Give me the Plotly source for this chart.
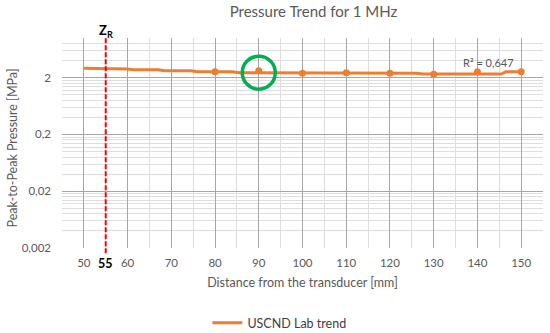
import plotly.graph_objects as go

# ---- data ----
trend_x = [50, 54, 55.5, 60, 61.5, 67, 68.5, 74.5, 76, 84, 85.5, 95, 96.5, 126, 127.5, 145.5, 146.5, 150]
trend_y = [2.93, 2.93, 2.85, 2.85, 2.77, 2.77, 2.66, 2.66, 2.55, 2.55, 2.45, 2.45, 2.39, 2.39, 2.32, 2.32, 2.55, 2.55]
meas_x = [80, 90, 100, 110, 120, 130, 140, 150]
meas_y = [2.55, 2.66, 2.39, 2.45, 2.39, 2.30, 2.55, 2.55]
x_ticks = [50, 60, 70, 80, 90, 100, 110, 120, 130, 140, 150]
x_minor = [45, 55, 65, 75, 85, 95, 105, 115, 125, 135, 145, 155]
y_ticks = [0.002, 0.02, 0.2, 2]
y_ticktext = ["0,002", "0,02", "0,2", "2"]
y_minor = [0.004, 0.006, 0.008, 0.010, 0.012, 0.014, 0.016, 0.018,
           0.04, 0.06, 0.08, 0.10, 0.12, 0.14, 0.16, 0.18,
           0.4, 0.6, 0.8, 1.0, 1.2, 1.4, 1.6, 1.8,
           4, 6, 8, 10]
zr_x = 55
highlight_x = 90
r2_text = "R² = 0,647"

ORANGE = "#ed7d31"
GRAY = "#595959"
FONT = "Lato"

fig = go.Figure()
fig.add_trace(go.Scatter(x=trend_x, y=trend_y, mode="lines", name="USCND Lab trend",
                         line=dict(color=ORANGE, width=3)))
fig.add_trace(go.Scatter(x=meas_x, y=meas_y, mode="markers", showlegend=False,
                         marker=dict(color=ORANGE, size=7)))

fig.update_layout(
    width=550, height=333,
    margin=dict(l=62, r=7, t=38, b=85, autoexpand=False),
    paper_bgcolor="white", plot_bgcolor="white",
    font=dict(family=FONT, color=GRAY, size=12),
    title=dict(text="Pressure Trend for 1 MHz", x=0.57, xanchor="center",
               y=0.965, yanchor="middle", font=dict(size=15, color=GRAY)),
    showlegend=True,
    legend=dict(orientation="h", xref="container", x=0.508, xanchor="center",
                yref="container", y=0.03, yanchor="middle",
                font=dict(size=12.5, color="#404040")),
)

fig.update_xaxes(
    range=[45, 155], tickvals=x_ticks, showgrid=True, gridcolor="#a6a6a6", gridwidth=1,
    zeroline=False, showline=False, ticks="", ticklabelstandoff=6,
    tickfont=dict(size=11.5, color=GRAY),
    minor=dict(tickvals=x_minor, showgrid=True, gridcolor="#dedede", gridwidth=1),
    title=dict(text="Distance from the transducer [mm]", font=dict(size=12.5, color=GRAY), standoff=10),
)
fig.update_yaxes(
    type="log", range=[-2.69897, 1.0], tickvals=y_ticks, ticktext=y_ticktext,
    showgrid=True, gridcolor="#a6a6a6", gridwidth=1, zeroline=False, showline=False,
    ticks="", ticklabelstandoff=10, tickfont=dict(size=11.5, color=GRAY),
    minor=dict(tickvals=y_minor, showgrid=True, gridcolor="#dedede", gridwidth=1),
)

fig.add_annotation(text="Peak-to-Peak Pressure [MPa]", textangle=-90, xref="paper", x=0, xshift=-50,
                   xanchor="center", yanchor="middle",
                   yref="paper", y=0.474, showarrow=False, font=dict(size=12.5, color=GRAY))

# Z_R reference line
fig.add_shape(type="line", xref="x", yref="paper", x0=zr_x, x1=zr_x, y0=-0.025, y1=1,
              line=dict(color="#ff0000", width=2, dash="5px,2px"))
fig.add_annotation(text="<b>Z<sub>R</sub></b>", xref="x", x=zr_x, yref="paper", y=1, yanchor="bottom",
                   showarrow=False, font=dict(size=13, color="black"), yshift=-4)
fig.add_annotation(text="<b>55</b>", xref="x", x=zr_x, yref="paper", y=0, yanchor="top",
                   showarrow=False, font=dict(size=12.5, color="black"), yshift=-6)

# highlight circle (x in data units, y in paper units)
fig.add_shape(type="circle", xref="x", yref="paper",
              x0=highlight_x - 3.77, x1=highlight_x + 3.77, y0=0.835 - 0.0786, y1=0.835 + 0.0786,
              line=dict(color="#00b050", width=3.5))

fig.add_annotation(text=r2_text, xref="x", x=140, yref="paper", y=(248 - 62) / 210,
                   xanchor="center", yanchor="middle",
                   showarrow=False, font=dict(size=11, color=GRAY), xshift=11)

fig.write_html("out.html", config={"displayModeBar": False},
               post_script="document.body.style.margin='0px';")
